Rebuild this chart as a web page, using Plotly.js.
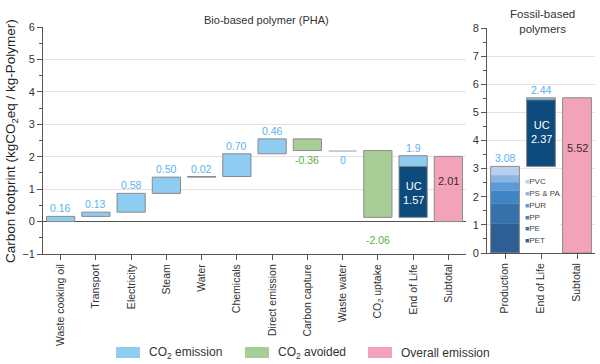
<!DOCTYPE html>
<html>
<head>
<meta charset="utf-8">
<script src="https://cdn.plot.ly/plotly-3.0.1.min.js"></script>
<style>html,body{margin:0;padding:0;background:#fff;}#chart{width:600px;height:364px;}</style>
</head>
<body>
<div id="chart"></div>
<script>
// ---------------- data ----------------
const bioCategories = ['Waste cooking oil','Transport','Electricity','Steam','Water','Chemicals','Direct emission','Carbon capture','Waste water','CO<sub>2</sub> uptake','End of Life','Subtotal'];
const bioSteps = [0.16, 0.13, 0.58, 0.50, 0.02, 0.70, 0.46, -0.36, 0, -2.06, 1.9];
const bioStepLabels = ['0.16','0.13','0.58','0.50','0.02','0.70','0.46','-0.36','0','-2.06','1.9'];
const bioEolUC = 1.57;
const bioSubtotal = 2.01;

const fossilCategories = ['Production','End of Life','Subtotal'];
const productionParts = ['PET','PE','PP','PUR','PS & PA','PVC'];
const productionValues = [1.06, 0.71, 0.46, 0.29, 0.25, 0.31];
const productionTotal = 3.08;
const fossilEol = 2.44;
const fossilEolUC = 2.37;
const fossilSubtotal = 5.52;

const legendNames = ['CO<sub>2</sub> emission','CO<sub>2</sub> avoided','Overall emission'];

// ---------------- styles ----------------
const C_EM = '#8ecdf1', C_AV = '#a9cd96', C_TOT = '#f3a3b9', C_UC = '#0c4b7b';
const C_LBL_EM = '#5ab2ef', C_LBL_AV = '#5fae45';
const OUT = '#8a8a8a';
const partColors = ['#2e5f94','#3571ab','#3f84c5','#5c99d7','#8cb5e3','#b9d0ec'];
const FONT = 'Arial, "Liberation Sans", sans-serif';
const W = 600, H = 364;
const px = v => v / W, py = v => 1 - v / H;

// ---------------- left panel (waterfall) ----------------
const traces = [];
const annotations = [];
const shapes = [];

let cum = 0;
const emX = [], emBase = [], emY = [];
const avX = [], avBase = [], avY = [];
const zeroX = [], zeroBase = [], zeroY = [];
let eolBase = 0;
bioSteps.forEach((v, i) => {
  const cat = bioCategories[i];
  const start = cum;
  const end = cum + v;
  if (cat === 'End of Life') {
    eolBase = start;
    emX.push(cat); emBase.push(start + bioEolUC); emY.push(v - bioEolUC);
  } else if (v > 0) {
    emX.push(cat); emBase.push(start); emY.push(v);
  } else if (v < 0) {
    avX.push(cat); avBase.push(start); avY.push(v);
  } else {
    zeroX.push(cat); zeroBase.push(start); zeroY.push(v);
  }
  if (v > 0) {
    annotations.push({xref:'x', yref:'y', x:cat, y:end, text:bioStepLabels[i], showarrow:false,
      xanchor:'center', yanchor:'bottom', font:{family:FONT, size:10.5, color:C_LBL_EM}});
  } else {
    const low = Math.min(start, end);
    const yLab = low < 0.5 ? -0.28 : low;
    annotations.push({xref:'x', yref:'y', x:cat, y:yLab, text:bioStepLabels[i], showarrow:false,
      xanchor:'center', yanchor:'top', yshift:-1, font:{family:FONT, size:10.5, color: v < 0 ? C_LBL_AV : C_LBL_EM}});
  }
  cum = end;
});

traces.push({type:'bar', x:emX, y:emY, base:emBase, xaxis:'x', yaxis:'y', width:0.8,
  marker:{color:C_EM, line:{color:OUT, width:1}}, showlegend:false, hoverinfo:'skip'});
traces.push({type:'bar', x:avX, y:avY, base:avBase, xaxis:'x', yaxis:'y', width:0.8,
  marker:{color:C_AV, line:{color:OUT, width:1}}, showlegend:false, hoverinfo:'skip'});
traces.push({type:'bar', x:zeroX, y:zeroY.map(v => v + 0.03), base:zeroBase.map(b => b - 0.03), xaxis:'x', yaxis:'y', width:0.8,
  marker:{color:'#9a9a9a', line:{color:'#9a9a9a', width:0}}, showlegend:false, hoverinfo:'skip'});
traces.push({type:'bar', x:['End of Life'], y:[bioEolUC], base:[eolBase], xaxis:'x', yaxis:'y', width:0.8,
  marker:{color:C_UC, line:{color:OUT, width:1}}, showlegend:false, hoverinfo:'skip'});
traces.push({type:'bar', x:['Subtotal'], y:[bioSubtotal], base:[0], xaxis:'x', yaxis:'y', width:0.8,
  marker:{color:C_TOT, line:{color:OUT, width:1}}, showlegend:false, hoverinfo:'skip'});

annotations.push({xref:'x', yref:'y', x:'End of Life', y:eolBase + bioEolUC * 0.47, text:'UC<br>' + bioEolUC.toFixed(2),
  xanchor:'center', yanchor:'middle', showarrow:false, font:{family:FONT, size:11, color:'#ffffff'}});
annotations.push({xref:'x', yref:'y', x:'Subtotal', y:bioSubtotal * 0.62, text:bioSubtotal.toFixed(2),
  xanchor:'center', yanchor:'middle', showarrow:false, font:{family:FONT, size:11, color:'#3a2a30'}});

// ---------------- right panel (fossil) ----------------
let acc = 0;
productionParts.forEach((p, i) => {
  traces.push({type:'bar', x:['Production'], y:[productionValues[i]], base:[acc], xaxis:'x2', yaxis:'y2', width:0.8,
    marker:{color:partColors[i], line:{width:0}}, showlegend:false, hoverinfo:'skip'});
  acc += productionValues[i];
});
traces.push({type:'bar', x:['Production'], y:[productionTotal], base:[0], xaxis:'x2', yaxis:'y2', width:0.8,
  marker:{color:'rgba(0,0,0,0)', line:{color:OUT, width:1}}, showlegend:false, hoverinfo:'skip'});
traces.push({type:'bar', x:['End of Life'], y:[fossilEolUC], base:[productionTotal], xaxis:'x2', yaxis:'y2', width:0.8,
  marker:{color:C_UC, line:{color:OUT, width:1}}, showlegend:false, hoverinfo:'skip'});
traces.push({type:'bar', x:['End of Life'], y:[fossilEol - fossilEolUC], base:[productionTotal + fossilEolUC], xaxis:'x2', yaxis:'y2', width:0.8,
  marker:{color:C_EM, line:{color:OUT, width:1}}, showlegend:false, hoverinfo:'skip'});
traces.push({type:'bar', x:['Subtotal'], y:[fossilSubtotal], base:[0], xaxis:'x2', yaxis:'y2', width:0.8,
  marker:{color:C_TOT, line:{color:OUT, width:1}}, showlegend:false, hoverinfo:'skip'});

annotations.push({xref:'x2', yref:'y2', x:'Production', y:productionTotal, text:productionTotal.toFixed(2), showarrow:false,
  xanchor:'center', yanchor:'bottom', font:{family:FONT, size:10.5, color:C_LBL_EM}});
annotations.push({xref:'x2', yref:'y2', x:'End of Life', y:productionTotal + fossilEol, text:fossilEol.toFixed(2), showarrow:false,
  xanchor:'center', yanchor:'bottom', font:{family:FONT, size:10.5, color:C_LBL_EM}});
annotations.push({xref:'x2', yref:'y2', x:'End of Life', y:productionTotal + fossilEolUC * 0.52, text:'UC<br>' + fossilEolUC.toFixed(2),
  xanchor:'center', yanchor:'middle', showarrow:false, font:{family:FONT, size:11, color:'#ffffff'}});
annotations.push({xref:'x2', yref:'y2', x:'Subtotal', y:fossilSubtotal * 0.675, text:fossilSubtotal.toFixed(2),
  xanchor:'center', yanchor:'middle', showarrow:false, font:{family:FONT, size:11, color:'#3a2a30'}});

// inner legend for production parts
shapes.push({type:'rect', xref:'x2', yref:'y2', x0:0.41, x1:1.52, y0:0.02, y1:3.0, layer:'between',
  fillcolor:'#ffffff', line:{width:0}});
productionParts.forEach((p, i) => {
  annotations.push({xref:'x2', yref:'y2', x:0.5, y:0.43 + i * 0.424, xanchor:'left', yanchor:'middle', showarrow:false,
    text:'<span style="color:' + partColors[i] + ';font-size:7px">■</span>' + p,
    font:{family:FONT, size:8, color:'#444'}});
});

// ---------------- titles ----------------
annotations.push({xref:'paper', yref:'paper', x:px(266), y:py(20), xanchor:'center', yanchor:'middle',
  text:'Bio-based polymer (PHA)', showarrow:false, font:{family:FONT, size:11, color:'#333'}});
annotations.push({xref:'paper', yref:'paper', x:px(542), y:py(21), xanchor:'center', yanchor:'middle',
  text:'Fossil-based<br>polymers', showarrow:false, font:{family:FONT, size:11.5, color:'#333'}});
annotations.push({xref:'paper', yref:'paper', x:px(12), y:py(141), xanchor:'center', yanchor:'middle', textangle:-90,
  text:'Carbon footprint (kgCO<sub>2</sub>eq / kg-Polymer)', showarrow:false,
  font:{family:FONT, size:13.5, color:'#222'}});

// ---------------- bottom legend ----------------
const legColors = [C_EM, C_AV, C_TOT];
const legX = [116, 245, 368];
legendNames.forEach((n, i) => {
  shapes.push({type:'rect', xref:'paper', yref:'paper', x0:px(legX[i]), x1:px(legX[i] + 24), y0:py(358), y1:py(347),
    fillcolor:legColors[i], line:{width:0}});
  annotations.push({xref:'paper', yref:'paper', x:px(legX[i] + 31), y:py(352.5), xanchor:'left', yanchor:'middle',
    text:n, showarrow:false, font:{family:FONT, size:12, color:'#333'}});
});

// ---------------- layout ----------------
const axisCommon = {showline:true, linecolor:'#555', linewidth:1, ticks:'outside', tickcolor:'#555', ticklen:5,
  tickfont:{family:FONT, size:11, color:'#333'}};
const layout = {
  width: W, height: H,
  margin:{l:0, r:0, t:0, b:0},
  paper_bgcolor:'#ffffff', plot_bgcolor:'rgba(0,0,0,0)',
  barmode:'overlay', showlegend:false,
  font:{family:FONT},
  xaxis: Object.assign({}, axisCommon, {domain:[px(43), px(466)], anchor:'y', type:'category',
    range:[-0.5, 11.5], tickangle:-90, showgrid:false, tickfont:{family:FONT, size:10.5, color:'#333'}}),
  yaxis: Object.assign({}, axisCommon, {domain:[py(254), py(27)], anchor:'x', range:[-1, 6], dtick:1,
    showgrid:true, gridcolor:'#e9dee2', gridwidth:1, zeroline:true, zerolinecolor:'#555', zerolinewidth:1,
    minor:{dtick:0.5, ticks:'outside', ticklen:3, tickcolor:'#555', showgrid:false}}),
  xaxis2: Object.assign({}, axisCommon, {domain:[px(487), px(595)], anchor:'y2', type:'category',
    range:[-0.5, 2.5], tickangle:-90, showgrid:false, tickfont:{family:FONT, size:10.5, color:'#333'}}),
  yaxis2: Object.assign({}, axisCommon, {domain:[py(253), py(28)], anchor:'x2', range:[0, 8], dtick:1,
    showgrid:true, gridcolor:'#e9dee2', zeroline:false,
    minor:{dtick:0.5, ticks:'outside', ticklen:3, tickcolor:'#555', showgrid:false}}),
  annotations: annotations,
  shapes: shapes
};
layout.xaxis.categoryarray = bioCategories; layout.xaxis.categoryorder = 'array';
layout.xaxis2.categoryarray = fossilCategories; layout.xaxis2.categoryorder = 'array';

Plotly.newPlot('chart', traces, layout, {staticPlot:true, displayModeBar:false});
</script>
</body>
</html>
